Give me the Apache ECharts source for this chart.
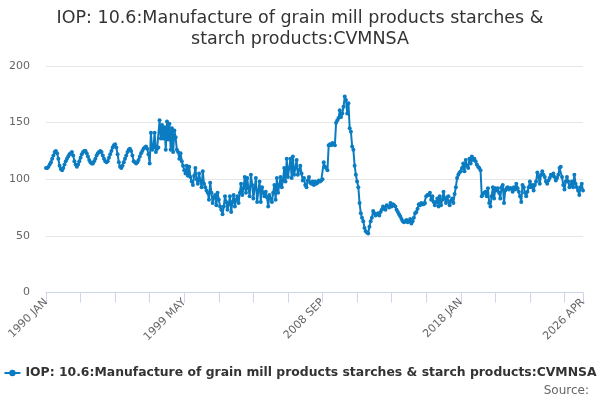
<!DOCTYPE html>
<html>
<head>
<meta charset="utf-8">
<script src="https://cdn.jsdelivr.net/npm/echarts@6/dist/echarts.min.js"></script>
<style>html,body{margin:0;padding:0;background:#fff;}#c{width:600px;height:400px;}</style>
</head>
<body>
<div id="c"></div>
<script>
const startYear = 1990;
const endYear = 2026;
const endMonth = 4;
const monthNames = ['JAN','FEB','MAR','APR','MAY','JUN','JUL','AUG','SEP','OCT','NOV','DEC'];
const yTicks = [0, 50, 100, 150, 200];

const v1990 = [110,110,111,113,115,118,121,124,125,123,118,112];
const v1991 = [109,108,110,113,116,118,120,122,123,124,121,116];
const v1992 = [113,111,113,116,119,122,124,125,125,123,120,117];
const v1993 = [115,114,114,116,118,121,123,124,125,124,121,118];
const v1994 = [116,115,116,119,122,125,128,130,131,128,122,115];
const v1995 = [111,110,112,115,118,121,124,126,127,125,121,116];
const v1996 = [115,114,115,117,120,123,125,127,128,129,127,122];
const v1997 = [114,141,126,128,141,124,127,128,152,136,148,136];
const v1998 = [146,126,151,135,149,126,145,124,143,137,126,124];
const v1999 = [118,123,116,112,108,105,112,103,111,102,98,95];
const v2000 = [103,110,100,96,105,99,93,107,96,93,90,88];
const v2001 = [82,97,88,79,84,86,77,88,82,76,73,69];
const v2002 = [76,85,80,73,78,85,71,80,86,76,82,85];
const v2003 = [79,88,96,86,92,102,88,101,92,85,104,95];
const v2004 = [83,92,101,80,90,98,80,93,88,85,89,84];
const v2005 = [76,86,83,80,88,95,82,101,88,95,102,93];
const v2006 = [99,110,98,118,102,110,118,101,120,104,110,117];
const v2007 = [104,108,112,105,99,101,95,93,99,102,97,96];
const v2008 = [98,95,98,96,97,99,98,99,100,115,111,110];
const v2009 = [108,130,131,130,132,131,130,150,152,154,161,155];
const v2010 = [158,164,173,170,158,167,145,142,129,126,112,104];
const v2011 = [98,93,79,70,66,63,57,54,53,52,58,63];
const v2012 = [66,72,70,68,69,70,68,71,73,76,74,73];
const v2013 = [77,76,75,79,76,78,77,76,73,71,69,67];
const v2014 = [65,63,62,63,64,62,63,65,61,63,66,70];
const v2015 = [71,74,78,77,79,78,78,79,85,86,86,88];
const v2016 = [82,85,80,77,80,83,76,85,77,82,89,83];
const v2017 = [79,84,85,77,81,83,79,87,93,101,104,106];
const v2018 = [107,110,114,107,117,112,110,118,114,120,117,118];
const v2019 = [116,113,111,110,108,85,87,88,89,85,92,79];
const v2020 = [76,85,93,83,92,90,92,88,83,93,95,79];
const v2021 = [90,92,93,91,92,92,89,93,91,96,92,89];
const v2022 = [85,80,95,93,88,85,89,93,98,93,95,90];
const v2023 = [95,98,106,102,96,104,107,104,102,98,96,99];
const v2024 = [101,104,103,105,102,99,101,104,110,111,102,95];
const v2025 = [91,98,102,98,93,95,98,93,104,96,93,90];
const v2026 = [86,93,96,90];

const values = [].concat(v1990,v1991,v1992,v1993,v1994,v1995,v1996,v1997,v1998,v1999,
  v2000,v2001,v2002,v2003,v2004,v2005,v2006,v2007,v2008,v2009,v2010,v2011,v2012,v2013,
  v2014,v2015,v2016,v2017,v2018,v2019,v2020,v2021,v2022,v2023,v2024,v2025,v2026);

const categories = [];
for (let y = startYear; y <= endYear; y++) {
  for (let m = 0; m < 12; m++) {
    if (y === endYear && m >= endMonth) break;
    categories.push(y + ' ' + monthNames[m]);
  }
}
const last = categories.length - 1;

const seriesName = 'IOP: 10.6:Manufacture of grain mill products starches & starch products:CVMNSA';
const font = 'DejaVu Sans';
const color = '#0b7cc1';

const chart = echarts.init(document.getElementById('c'), null, {renderer: 'canvas'});
chart.setOption({
  animation: false,
  backgroundColor: '#ffffff',
  title: {
    text: 'IOP: 10.6:Manufacture of grain mill products starches &\nstarch products:CVMNSA',
    left: 'center',
    top: 3,
    textStyle: {fontFamily: font, fontSize: 17.5, fontWeight: 'normal', color: '#333333', lineHeight: 21}
  },
  grid: {left: 46, right: 17, top: 66, bottom: 107.5, containLabel: false},
  legend: {
    top: 362,
    left: 'center',
    itemWidth: 16,
    itemHeight: 8,
    itemGap: 0,
    textStyle: {fontFamily: font, fontSize: 12.4, fontWeight: 'bold', color: '#333333'},
    data: [seriesName]
  },
  graphic: [{
    type: 'text',
    right: 11,
    bottom: 3,
    style: {text: 'Source:', font: '12px "DejaVu Sans"', fill: '#666666'}
  }],
  xAxis: {
    type: 'category',
    data: categories,
    boundaryGap: false,
    axisLine: {lineStyle: {color: '#ccd6eb', width: 1}},
    axisTick: {
      length: 10,
      lineStyle: {color: '#ccd6eb'},
      interval: function (i) { return i % 28 === 0 || i === last; }
    },
    axisLabel: {
      rotate: 45,
      margin: 8,
      fontFamily: font,
      fontSize: 11,
      color: '#666666',
      interval: function (i) { return i % 112 === 0 || i === last; }
    },
    splitLine: {show: false}
  },
  yAxis: {
    type: 'value',
    min: yTicks[0],
    max: yTicks[yTicks.length - 1],
    interval: 50,
    axisLine: {show: false},
    axisTick: {show: false},
    axisLabel: {fontFamily: font, fontSize: 11, color: '#666666', margin: 16},
    splitLine: {lineStyle: {color: '#e6e6e6', width: 1}}
  },
  series: [{
    name: seriesName,
    type: 'line',
    data: values,
    symbol: 'circle',
    symbolSize: 4,
    showAllSymbol: true,
    lineStyle: {color: color, width: 2},
    itemStyle: {color: color}
  }]
});
</script>
</body>
</html>
